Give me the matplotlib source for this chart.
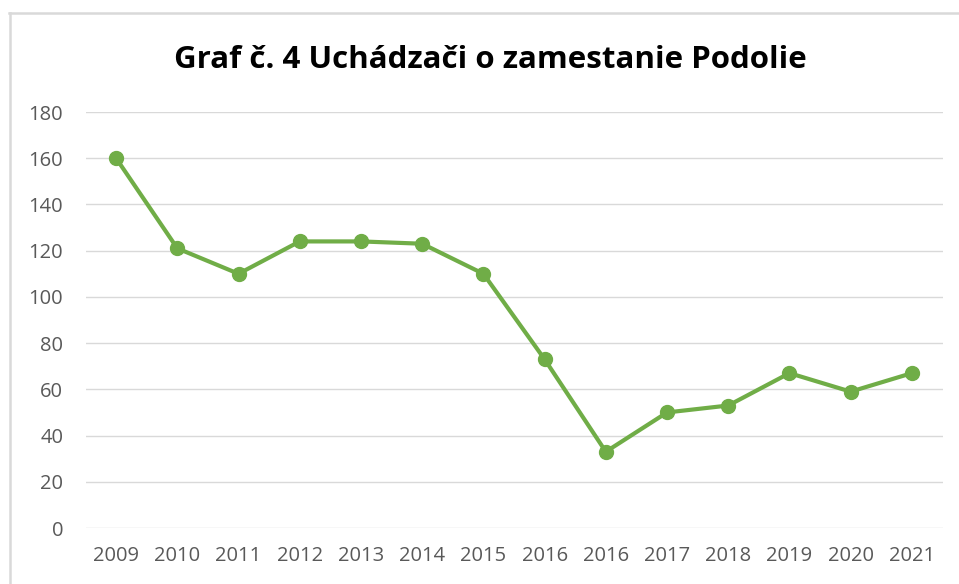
import matplotlib.pyplot as plt
from matplotlib.lines import Line2D

# data
years = ["2009", "2010", "2011", "2012", "2013", "2014", "2015",
         "2016", "2016", "2017", "2018", "2019", "2020", "2021"]
applicants = [160, 121, 110, 124, 124, 123, 110, 73, 33, 50, 53, 67, 59, 67]
yticks = [0, 20, 40, 60, 80, 100, 120, 140, 160, 180]

W, H = 959, 584
fig = plt.figure(figsize=(W / 100, H / 100), dpi=100)
ax = fig.add_axes([85.5 / W, (H - 528) / H, (942.5 - 85.5) / W, (528 - 112) / H])

x = list(range(len(years)))
ax.plot(x, applicants, color="#70AD47", lw=3, marker="o", ms=10,
        solid_capstyle="round", zorder=3)

ax.set_xlim(-0.5, len(years) - 0.5)
ax.set_ylim(0, 180)
ax.set_yticks(yticks)
ax.set_xticks(x)
ax.set_xticklabels(years)
ax.grid(axis="y", color="#D9D9D9", lw=1)
ax.set_axisbelow(True)
for s in ax.spines.values():
    s.set_visible(False)
ax.tick_params(length=0, labelsize=14.5, labelcolor="#595959")
ax.tick_params(axis="x", pad=13)
ax.tick_params(axis="y", pad=16)
for lab in ax.get_xticklabels() + ax.get_yticklabels():
    lab.set_family("Open Sans")

fig.text(490 / W, 1 - 60 / H, "Graf č. 4 Uchádzači o zamestanie Podolie",
         ha="center", va="center", fontsize=22.5, fontweight="bold",
         family="Open Sans", color="black")

# outer chart frame (only top and left edges are visible)
fig.add_artist(Line2D([9.5 / W, 9.5 / W], [0, 1 - 13 / H], color="#D9D9D9", lw=1.8,
                      transform=fig.transFigure))
fig.add_artist(Line2D([9 / W, 1], [1 - 13 / H, 1 - 13 / H], color="#D9D9D9", lw=1.8,
                      transform=fig.transFigure))

fig.savefig("out.png", dpi=100)
